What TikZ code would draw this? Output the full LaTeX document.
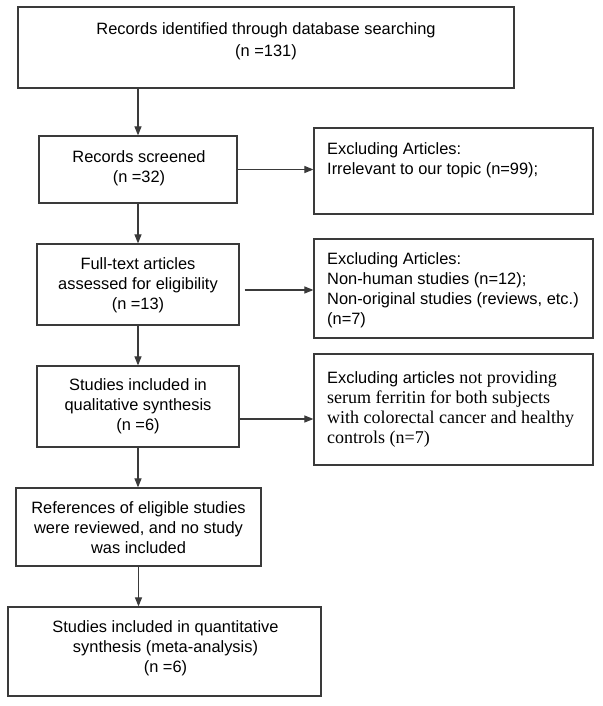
\documentclass[tikz,border=0pt]{standalone}
\usepackage{fontspec}
\setmainfont{Liberation Sans}
\newfontfamily\timesfont{Liberation Serif}
\usetikzlibrary{arrows.meta}
\definecolor{edgegray}{HTML}{3A3A3A}
\begin{document}
\begin{tikzpicture}[x=1pt,y=-1pt,
        box/.style={draw=edgegray,line width=1.2pt,inner sep=0pt},
        txt/.style={inner sep=0pt,font=\fontsize{16.4}{20}\selectfont},
        arr/.style={->,>={Triangle[length=9pt,width=7pt]},draw=edgegray,line width=1.1pt}]
    \useasboundingbox (0,0) rectangle (602,706);
    % left column
    \node[box,minimum width=496pt,minimum height=81pt] at (266,47.5) (ident) {};
    \node[txt,align=center,font=\fontsize{16.4}{22}\selectfont] at (266,41.5) (identtext) {Records identified through database searching\\(n =131)};
    \node[box,minimum width=198pt,minimum height=67pt] at (138,169.5) (screen) {};
    \node[txt,align=center] at (139,168) (screentext) {Records screened\\(n =32)};
    \node[box,minimum width=202pt,minimum height=81pt] at (138,284.5) (full) {};
    \node[txt,align=center] at (138,285) (fulltext) {Full-text articles\\assessed for eligibility\\(n =13)};
    \node[box,minimum width=202pt,minimum height=81pt] at (138,406.5) (qual) {};
    \node[txt,align=center] at (138,406.5) (qualtext) {Studies included in\\qualitative synthesis\\(n =6)};
    \node[box,minimum width=245pt,minimum height=78pt] at (138.5,527) (refs) {};
    \node[txt,align=center] at (138.5,528) (refstext) {References of eligible studies\\were reviewed, and no study\\was included};
    \node[box,minimum width=313pt,minimum height=89pt] at (164.5,651.5) (quant) {};
    \node[txt,align=center] at (165.5,648) (quanttext) {Studies included in quantitative\\synthesis (meta-analysis)\\(n =6)};
    % right column
    \node[box,minimum width=279pt,minimum height=86pt] at (453.5,171) (ex1) {};
    \node[txt,align=left,anchor=west] at (327,160.5) (ex1text) {Excluding Articles:\\Irrelevant to our topic (n=99);};
    \node[box,minimum width=279pt,minimum height=99pt] at (453.5,288.5) (ex2) {};
    \node[txt,align=left,anchor=west] at (327,290) (ex2text) {Excluding Articles:\\Non-human studies (n=12);\\Non-original studies (reviews, etc.)\\(n=7)};
    \node[box,minimum width=279pt,minimum height=111pt] at (453.5,409.5) (ex3) {};
    \node[txt,align=left,anchor=west] at (327,409.5) (ex3text) {Excluding articles {\timesfont\fontsize{18}{20}\selectfont not providing}\\
        {\timesfont\fontsize{18}{20}\selectfont serum ferritin for both subjects}\\
        {\timesfont\fontsize{18}{20}\selectfont with colorectal cancer and healthy}\\
        {\timesfont\fontsize{18}{20}\selectfont controls (n=7)}};
    % arrows
    \draw[arr] (ident.south -| screen.north) -- (screen.north);
    \draw[arr] (screen) -- (full);
    \draw[arr] (full) -- (qual);
    \draw[arr] (qual.south) -- (qual.south |- refs.north);
    \draw[arr] (refs.south) -- (refs.south |- quant.north);
    \draw[arr] (screen.east) -- (screen.east -| ex1.west);
    \draw[arr] ([shift={(5,5.5)}]full.east) coordinate (fa) -- (fa -| ex2.west);
    \draw[arr] ([shift={(0,12.5)}]qual.east) coordinate (qa) -- (qa -| ex3.west);
\end{tikzpicture}
\end{document}
